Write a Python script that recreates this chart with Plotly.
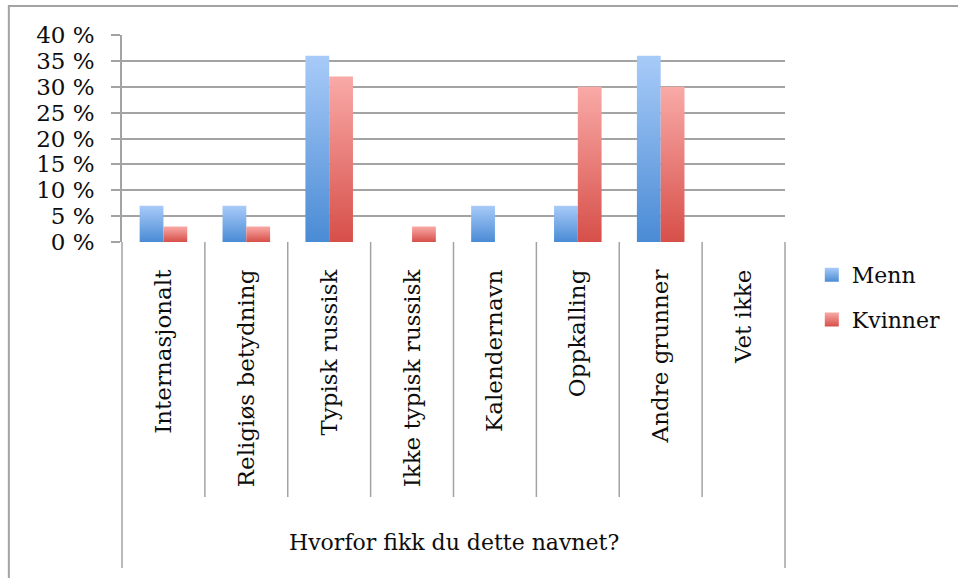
import plotly.graph_objects as go

# --- data -------------------------------------------------------------
categories = [
    "Internasjonalt",
    "Religiøs betydning",
    "Typisk russisk",
    "Ikke typisk russisk",
    "Kalendernavn",
    "Oppkalling",
    "Andre grunner",
    "Vet ikke",
]
menn = [7, 7, 36, 0, 7, 7, 36, 0]
kvinner = [3, 3, 32, 3, 0, 30, 30, 0]
series_names = ["Menn", "Kvinner"]
y_tick_values = [0, 5, 10, 15, 20, 25, 30, 35, 40]
y_tick_labels = [f"{v} %" for v in y_tick_values]
axis_title = "Hvorfor fikk du dette navnet?"

# --- styling ----------------------------------------------------------
FONT = "DejaVu Serif"
TEXT = "#0d0d0d"
GRID = "#a3a3a3"
# (dark bottom, light top) for each series
GRADIENTS = [("#4a8bd5", "#a8cbf8"), ("#d74f49", "#f9aaa7")]
BAR_HALF = 0.287          # width of one bar in category units
W, H = 958, 578
L, R, T, B = 122, 168, 35, 336
PLOT_H = H - T - B


def py_to_paper(py):
    return (H - B - py) / PLOT_H


def px_to_paper(px):
    return (px - L) / (W - L - R)


fig = go.Figure()

# bars drawn as filled outlines so each one carries its own vertical gradient
for s, values in enumerate([menn, kvinner]):
    dark, light = GRADIENTS[s]
    for i, v in enumerate(values):
        if v <= 0:
            continue
        x0 = i - BAR_HALF if s == 0 else i
        x1 = x0 + BAR_HALF
        fig.add_trace(go.Scatter(
            x=[x0, x1, x1, x0, x0],
            y=[0, 0, v, v, 0],
            mode="lines",
            fill="toself",
            fillgradient=dict(type="vertical", colorscale=[[0, dark], [1, light]]),
            line=dict(width=0),
            showlegend=False,
            hoverinfo="text",
            hovertext=f"{series_names[s]}: {v} %",
        ))

# legend entries (marker colour at the top, gradient colour at the bottom)
for s, name in enumerate(series_names):
    dark, light = GRADIENTS[s]
    fig.add_trace(go.Scatter(
        x=[None], y=[None],
        mode="markers",
        name=name,
        legendgroup=name,
        marker=dict(symbol="square", size=14, color=light,
                    gradient=dict(type="vertical", color=dark)),
    ))

shapes = []
# category dividers below the plot area
for k in range(1, len(categories)):
    shapes.append(dict(type="line", xref="x", yref="paper",
                       x0=k - 0.5, x1=k - 0.5, y0=0, y1=py_to_paper(497),
                       line=dict(color=GRID, width=1.5)))
# outer edges of the category block, running down past the axis title
for xp in (0, 1):
    shapes.append(dict(type="line", xref="paper", yref="paper",
                       x0=xp, x1=xp, y0=0, y1=py_to_paper(568),
                       line=dict(color=GRID, width=1.5)))
# chart frame
shapes.append(dict(type="rect", xref="paper", yref="paper",
                   x0=px_to_paper(8), x1=px_to_paper(1000),
                   y0=py_to_paper(700), y1=py_to_paper(6),
                   line=dict(color=GRID, width=2), layer="below"))

fig.update_layout(
    width=W, height=H,
    margin=dict(l=L, r=R, t=T, b=B),
    paper_bgcolor="white",
    plot_bgcolor="white",
    font=dict(family=FONT, size=23, color=TEXT),
    showlegend=True,
    legend=dict(
        x=px_to_paper(817), xanchor="left",
        y=py_to_paper(254), yanchor="top",
        font=dict(family=FONT, size=22, color=TEXT),
        traceorder="grouped",
        tracegroupgap=13,
        bgcolor="rgba(0,0,0,0)",
    ),
    shapes=shapes,
    annotations=[dict(
        text=axis_title, xref="paper", yref="paper",
        x=0.5, y=py_to_paper(542), xanchor="center", yanchor="middle",
        showarrow=False, font=dict(family=FONT, size=22, color=TEXT),
    )],
    xaxis=dict(
        range=[-0.5, len(categories) - 0.5],
        tickmode="array",
        tickvals=list(range(len(categories))),
        ticktext=categories,
        tickangle=-90,
        ticks="",
        ticklabelstandoff=22,
        showgrid=False,
        zeroline=False,
        showline=False,
        tickfont=dict(family=FONT, size=23, color=TEXT),
        fixedrange=True,
    ),
    yaxis=dict(
        range=[0, 40],
        tickmode="array",
        tickvals=y_tick_values,
        ticktext=y_tick_labels,
        ticks="outside",
        ticklen=9,
        tickwidth=1.5,
        tickcolor=GRID,
        ticklabelstandoff=12,
        showgrid=True,
        gridcolor=GRID,
        gridwidth=1.5,
        zeroline=False,
        showline=True,
        linecolor=GRID,
        linewidth=1.5,
        tickfont=dict(family=FONT, size=23, color=TEXT),
        fixedrange=True,
    ),
)

fig.write_html("out.html")
